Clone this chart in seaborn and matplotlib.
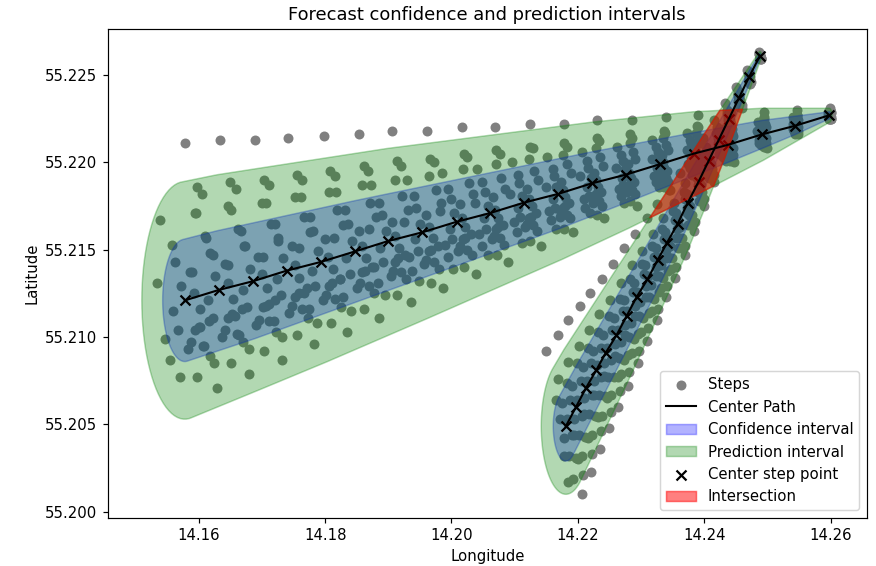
import numpy as np
import pandas as pd
import matplotlib
matplotlib.use("Agg")
import matplotlib.pyplot as plt
import seaborn as sns


# center step points of the two forecast tracks (start -> last step)
t1_lon = [14.2598, 14.2544, 14.2491, 14.2437, 14.2383, 14.2330, 14.2276, 14.2222, 14.2169, 14.2115,
          14.2061, 14.2008, 14.1954, 14.1900, 14.1847, 14.1793, 14.1739, 14.1686, 14.1632, 14.1578]
t1_lat = [55.2227, 55.2221, 55.2216, 55.2210, 55.2205, 55.2199, 55.2193, 55.2188, 55.2182, 55.2177,
          55.2171, 55.2166, 55.2160, 55.2155, 55.2149, 55.2143, 55.2138, 55.2132, 55.2127, 55.2121]
t2_lon = [14.2488, 14.2471, 14.2455, 14.2439, 14.2423, 14.2407, 14.2391, 14.2374, 14.2358, 14.2341,
          14.2326, 14.2310, 14.2293, 14.2277, 14.2261, 14.2244, 14.2229, 14.2213, 14.2197, 14.2181]
t2_lat = [55.2261, 55.2249, 55.2237, 55.2225, 55.2213, 55.2201, 55.2189, 55.2177, 55.2165, 55.2154,
          55.2144, 55.2133, 55.2123, 55.2112, 55.2101, 55.2091, 55.2081, 55.2071, 55.2060, 55.2049]

# interval radius around every center step (degrees)
t1_pred_r = [0.0004, 0.0009, 0.0015, 0.0019, 0.0024, 0.0027, 0.0031, 0.0035, 0.0038, 0.0041,
             0.0044, 0.0047, 0.0050, 0.0053, 0.0055, 0.0058, 0.0061, 0.0063, 0.0066, 0.0068]
t1_conf_r = [0.0002, 0.0005, 0.0008, 0.0010, 0.0012, 0.0014, 0.0016, 0.0018, 0.0020, 0.0021,
             0.0023, 0.0024, 0.0026, 0.0027, 0.0029, 0.0030, 0.0031, 0.0033, 0.0034, 0.0035]
t2_pred_r = [0.00025, 0.0005, 0.0008, 0.0011, 0.0014, 0.0016, 0.0018, 0.0020, 0.0022, 0.0024,
             0.0025, 0.0027, 0.0029, 0.0030, 0.0032, 0.0033, 0.0035, 0.0036, 0.0038, 0.0039]
t2_conf_r = [0.00013, 0.0003, 0.0004, 0.0006, 0.0007, 0.0008, 0.0009, 0.0010, 0.0011, 0.0012,
             0.0013, 0.0014, 0.0015, 0.0016, 0.0016, 0.0017, 0.0018, 0.0019, 0.0019, 0.0020]

# ensemble step points, offset from the center step in 1e-4 degrees (one row per member)
t1_dlon = [
    [1, 2, 4, 6, 7, 9, 9, 8, 9, 9, 8, 8, 8, 6, 6, 5, 3, 3, 1, 1],
    [1, 2, 3, 4, 5, 6, 7, 8, 9, 10, 10, 11, 12, 13, 14, 15, 16, 17, 18, 19],
    [1, 3, 4, 6, 7, 8, 10, 11, 13, 14, 15, 17, 18, 20, 21, 22, 24, 25, 27, 28],
    [1, 2, 2, 3, 4, 5, 6, 6, 7, 8, 9, 10, 10, 11, 12, 13, 14, 14, 15, 16],
    [-2, -4, -6, -8, -10, -12, -14, -16, -18, -20, -21, -23, -25, -27, -29, -31, -33, -35, -37, -39],
    [2, 3, 5, 6, 8, 10, 11, 13, 14, 16, 18, 19, 21, 22, 24, 26, 27, 29, 30, 32],
    [-1, -2, -3, -4, -5, -6, -7, -8, -9, -10, -12, -13, -14, -15, -16, -17, -18, -19, -20, -21],
    [0, 1, 1, 2, 2, 3, 3, 4, 4, 4, 5, 5, 6, 6, 7, 7, 8, 8, 9, 9],
    [-2, -4, -7, -9, -11, -13, -15, -18, -20, -22, -24, -26, -29, -31, -33, -35, -37, -40, -42, -44],
    [1, 2, 4, 5, 6, 7, 8, 10, 11, 12, 13, 14, 16, 17, 18, 19, 20, 22, 23, 24],
    [-1, -1, -2, -2, -3, -3, -4, -4, -5, -6, -6, -7, -7, -8, -8, -9, -9, -10, -10, -11],
    [1, 2, 3, 3, 4, 5, 6, 7, 7, 8, 9, 10, 11, 11, 12, 13, 14, 15, 15, 16],
    [1, 3, 4, 6, 7, 9, 10, 12, 13, 14, 16, 17, 19, 20, 22, 23, 25, 26, 28, 29],
    [-1, -2, -4, -5, -6, -7, -8, -10, -11, -12, -13, -14, -16, -17, -18, -19, -20, -22, -23, -24],
    [1, 2, 3, 4, 5, 6, 7, 8, 9, 10, 11, 12, 13, 14, 15, 16, 17, 18, 19, 20],
    [0, -1, -1, -2, -2, -2, -3, -3, -4, -4, -4, -5, -5, -6, -6, -6, -7, -7, -8, -8],
    [3, 5, 8, 10, 13, 15, 18, 20, 23, 26, 28, 31, 33, 36, 38, 41, 43, 46, 48, 51],
    [1, 2, 2, 3, 4, 4, 5, 6, 7, 8, 8, 9, 10, 10, 11, 12, 13, 14, 14, 15],
    [0, 0, 1, 1, 1, 2, 2, 2, 2, 2, 3, 3, 3, 4, 4, 4, 4, 4, 5, 5],
    [-1, -2, -2, -3, -4, -4, -5, -6, -7, -8, -8, -9, -10, -10, -11, -12, -13, -14, -14, -15],
    [2, 4, 6, 8, 10, 11, 13, 15, 17, 19, 21, 23, 25, 27, 28, 30, 32, 34, 36, 38],
    [-2, -3, -5, -6, -8, -10, -11, -13, -14, -16, -18, -19, -21, -22, -24, -26, -27, -29, -30, -32],
    [2, 4, 6, 8, 10, 12, 14, 16, 18, 20, 22, 24, 26, 28, 30, 32, 34, 36, 38, 40],
    [0, -1, -1, -1, -2, -2, -2, -2, -3, -3, -3, -4, -4, -4, -4, -5, -5, -5, -6, -6],
    [2, 4, 7, 9, 11, 13, 15, 18, 20, 22, 24, 26, 29, 31, 33, 35, 37, 40, 42, 44],
    [0, 1, 2, 2, 2, 3, 4, 4, 4, 5, 6, 6, 6, 7, 8, 8, 8, 9, 10, 10],
    [1, 2, 3, 4, 6, 7, 8, 9, 10, 11, 12, 13, 14, 15, 16, 18, 19, 20, 21, 22],
    [-1, -2, -3, -4, -4, -5, -6, -7, -8, -9, -10, -11, -12, -13, -14, -14, -15, -16, -17, -18],
]
t1_dlat = [
    [4, 9, 13, 18, 22, 27, 31, 36, 40, 45, 49, 54, 58, 63, 67, 72, 76, 81, 86, 90],
    [3, 6, 10, 13, 16, 19, 23, 26, 29, 32, 36, 39, 42, 46, 49, 52, 55, 58, 62, 65],
    [3, 6, 9, 12, 15, 18, 21, 24, 27, 31, 34, 37, 40, 43, 46, 49, 52, 55, 58, 61],
    [2, 5, 8, 10, 12, 15, 18, 20, 22, 25, 28, 30, 32, 35, 38, 40, 42, 45, 48, 50],
    [2, 5, 7, 9, 12, 14, 16, 18, 21, 23, 25, 28, 30, 32, 34, 37, 39, 41, 44, 46],
    [2, 4, 6, 7, 9, 11, 13, 15, 17, 18, 20, 22, 24, 26, 28, 30, 31, 33, 35, 37],
    [2, 3, 5, 6, 8, 10, 11, 13, 14, 16, 18, 19, 21, 22, 24, 26, 27, 29, 30, 32],
    [1, 2, 2, 3, 4, 5, 6, 6, 7, 8, 9, 10, 10, 11, 12, 13, 14, 14, 15, 16],
    [0, 1, 2, 2, 2, 3, 4, 4, 4, 5, 6, 6, 6, 7, 8, 8, 8, 9, 10, 10],
    [0, 0, -1, -1, -1, -2, -2, -2, -2, -2, -3, -3, -3, -4, -4, -4, -4, -4, -5, -5],
    [-1, -2, -3, -3, -4, -5, -6, -7, -8, -8, -9, -10, -11, -12, -13, -14, -14, -15, -16, -17],
    [-1, -2, -2, -4, -4, -5, -6, -6, -8, -9, -9, -10, -11, -12, -12, -14, -15, -15, -16, -17],
    [-1, -3, -4, -5, -6, -8, -9, -10, -12, -13, -14, -16, -17, -18, -20, -21, -22, -23, -25, -26],
    [-2, -3, -5, -7, -8, -10, -12, -14, -15, -17, -19, -20, -22, -24, -26, -27, -29, -31, -32, -34],
    [-2, -4, -7, -9, -11, -13, -15, -18, -20, -22, -24, -26, -29, -31, -33, -35, -37, -40, -42, -44],
    [-2, -5, -6, -9, -12, -13, -16, -17, -20, -23, -24, -27, -28, -31, -34, -35, -38, -39, -42, -44],
    [-2, -5, -8, -10, -12, -15, -18, -20, -22, -25, -28, -30, -32, -35, -38, -40, -42, -45, -48, -50],
    [0, 0, 1, 1, 1, 1, 1, 2, 2, 2, 2, 2, 3, 3, 3, 3, 3, 4, 4, 4],
    [-1, -3, -4, -6, -7, -8, -10, -11, -13, -14, -15, -17, -18, -20, -21, -22, -24, -25, -27, -28],
    [1, 2, 3, 4, 6, 7, 8, 9, 10, 11, 12, 13, 14, 15, 16, 18, 19, 20, 21, 22],
    [-1, -1, -2, -2, -3, -4, -4, -5, -5, -6, -7, -7, -8, -8, -9, -10, -10, -11, -11, -12],
    [-1, -2, -3, -4, -6, -7, -8, -9, -10, -11, -12, -13, -14, -15, -16, -18, -19, -20, -21, -22],
    [-2, -3, -5, -6, -8, -10, -11, -13, -14, -16, -18, -19, -21, -22, -24, -26, -27, -29, -30, -32],
    [0, 1, 1, 2, 2, 2, 3, 3, 4, 4, 4, 5, 5, 6, 6, 6, 7, 7, 8, 8],
    [1, 3, 4, 5, 6, 8, 9, 10, 12, 13, 14, 16, 17, 18, 20, 21, 22, 23, 25, 26],
    [-1, -2, -4, -5, -6, -7, -8, -10, -11, -12, -13, -14, -16, -17, -18, -19, -20, -22, -23, -24],
    [-1, -2, -2, -3, -4, -4, -5, -6, -7, -8, -8, -9, -10, -10, -11, -12, -13, -14, -14, -15],
    [0, -1, -1, -1, -2, -2, -2, -2, -3, -3, -3, -4, -4, -4, -4, -5, -5, -5, -6, -6],
]
t2_dlon = [
    [-2, -3, -5, -6, -8, -9, -11, -12, -14, -16, -17, -19, -20, -22, -23, -25, -26, -28, -29, -31],
    [1, 2, 4, 5, 6, 8, 9, 10, 11, 12, 14, 15, 16, 18, 19, 20, 21, 22, 24, 25],
    [1, 3, 4, 5, 7, 8, 9, 11, 12, 14, 15, 16, 18, 19, 20, 22, 23, 24, 26, 27],
    [1, 1, 2, 2, 3, 3, 4, 4, 5, 6, 6, 7, 7, 8, 8, 9, 9, 10, 10, 11],
    [1, 2, 2, 3, 4, 5, 6, 6, 7, 8, 9, 10, 10, 11, 12, 13, 14, 14, 15, 16],
    [0, 0, 1, 1, 1, 2, 2, 2, 2, 2, 3, 3, 3, 4, 4, 4, 4, 4, 5, 5],
    [0, 1, 2, 2, 2, 3, 4, 4, 4, 5, 6, 6, 6, 7, 8, 8, 8, 9, 10, 10],
    [0, 0, 0, -1, -1, -1, -1, -1, -1, -2, -2, -2, -2, -2, -2, -2, -3, -3, -3, -3],
    [0, 0, 0, 0, 0, 1, 1, 1, 1, 1, 1, 1, 1, 1, 2, 2, 2, 2, 2, 2],
    [0, -1, -1, -2, -2, -3, -3, -4, -4, -4, -5, -5, -6, -6, -7, -7, -8, -8, -9, -9],
    [0, -1, -1, -1, -2, -2, -2, -2, -3, -3, -3, -4, -4, -4, -4, -5, -5, -5, -6, -6],
    [-1, -2, -2, -3, -4, -4, -5, -6, -7, -8, -8, -9, -10, -10, -11, -12, -13, -14, -14, -15],
    [-1, -1, -2, -3, -3, -4, -5, -5, -6, -6, -7, -8, -8, -9, -10, -10, -11, -12, -12, -13],
    [0, 0, 0, 1, 1, 1, 1, 1, 1, 2, 2, 2, 2, 2, 2, 2, 3, 3, 3, 3],
    [0, 0, -1, -1, -1, -1, -1, -2, -2, -2, -2, -2, -2, -3, -3, -3, -3, -3, -3, -3],
]
t2_dlat = [
    [2, 4, 6, 9, 11, 13, 15, 17, 19, 22, 24, 26, 28, 30, 32, 34, 37, 39, 41, 43],
    [-2, -4, -6, -8, -10, -12, -14, -16, -18, -20, -21, -23, -25, -27, -29, -31, -33, -35, -37, -39],
    [-1, -3, -4, -6, -7, -8, -10, -11, -13, -14, -15, -17, -18, -20, -21, -22, -24, -25, -27, -28],
    [-2, -3, -4, -6, -8, -9, -10, -12, -14, -15, -16, -18, -20, -21, -22, -24, -26, -27, -28, -30],
    [-1, -2, -3, -4, -4, -5, -6, -7, -8, -9, -10, -11, -12, -13, -14, -14, -15, -16, -17, -18],
    [-1, -2, -3, -3, -4, -5, -6, -7, -8, -8, -9, -10, -11, -12, -13, -14, -14, -15, -16, -17],
    [0, 0, -1, -1, -1, -2, -2, -2, -2, -2, -3, -3, -3, -4, -4, -4, -4, -4, -5, -5],
    [0, -1, -1, -1, -2, -2, -2, -3, -3, -4, -4, -4, -5, -5, -5, -6, -6, -6, -7, -7],
    [0, 0, 1, 1, 1, 1, 1, 2, 2, 2, 2, 2, 3, 3, 3, 3, 3, 4, 4, 4],
    [0, 1, 1, 1, 1, 1, 2, 2, 2, 2, 2, 3, 3, 3, 3, 3, 4, 4, 4, 4],
    [1, 1, 2, 3, 3, 4, 5, 5, 6, 6, 7, 8, 8, 9, 10, 10, 11, 12, 12, 13],
    [1, 2, 2, 3, 4, 4, 5, 6, 7, 8, 8, 9, 10, 10, 11, 12, 13, 14, 14, 15],
    [1, 3, 4, 5, 7, 8, 9, 11, 12, 14, 15, 16, 18, 19, 20, 22, 23, 24, 26, 27],
    [-2, -3, -5, -6, -8, -10, -11, -13, -14, -16, -18, -19, -21, -22, -24, -26, -27, -29, -30, -32],
    [-1, -2, -2, -3, -4, -5, -6, -6, -8, -9, -9, -10, -11, -11, -12, -13, -14, -15, -16, -17],
]


def convex_hull(points):
    pts = sorted(set(points))

    def turn(o, a, b):
        return (a[0] - o[0]) * (b[1] - o[1]) - (a[1] - o[1]) * (b[0] - o[0])

    lower, upper = [], []
    for p in pts:
        while len(lower) >= 2 and turn(lower[-2], lower[-1], p) <= 0:
            lower.pop()
        lower.append(p)
    for p in reversed(pts):
        while len(upper) >= 2 and turn(upper[-2], upper[-1], p) <= 0:
            upper.pop()
        upper.append(p)
    return lower[:-1] + upper[:-1]


def interval_polygon(lon, lat, radius):
    ang = np.linspace(0, 2 * np.pi, 90, endpoint=False)
    pts = []
    for x, y, r in zip(lon, lat, radius):
        pts += list(zip(x + r * np.cos(ang), y + r * np.sin(ang)))
    return convex_hull(pts)


def clip_polygon(subject, clipper):
    # Sutherland-Hodgman, both polygons convex and counter clockwise
    out = list(subject)
    for i in range(len(clipper)):
        a, b = np.array(clipper[i]), np.array(clipper[(i + 1) % len(clipper)])
        inp, out = out, []
        if not inp:
            break

        def inside(p):
            return (b[0] - a[0]) * (p[1] - a[1]) - (b[1] - a[1]) * (p[0] - a[0]) >= 0

        def cut(p, q):
            p, q = np.array(p), np.array(q)
            r, s = q - p, b - a
            t = ((a - p)[0] * s[1] - (a - p)[1] * s[0]) / (r[0] * s[1] - r[1] * s[0])
            return tuple(p + t * r)

        for j in range(len(inp)):
            p, q = inp[j - 1], inp[j]
            if inside(q):
                if not inside(p):
                    out.append(cut(p, q))
                out.append(q)
            elif inside(p):
                out.append(cut(p, q))
    return out


def step_points(lon, lat, dlon, dlat):
    xs, ys = [], []
    for mlon, mlat in zip(dlon, dlat):
        xs += [x + d * 1e-4 for x, d in zip(lon, mlon)]
        ys += [y + d * 1e-4 for y, d in zip(lat, mlat)]
    return xs, ys


x1, y1 = step_points(t1_lon, t1_lat, t1_dlon, t1_dlat)
x2, y2 = step_points(t2_lon, t2_lat, t2_dlon, t2_dlat)
steps = pd.DataFrame({"lon": x1 + x2, "lat": y1 + y2})
centers = pd.DataFrame({"lon": t1_lon + t2_lon, "lat": t1_lat + t2_lat})

conf1 = interval_polygon(t1_lon, t1_lat, t1_conf_r)
conf2 = interval_polygon(t2_lon, t2_lat, t2_conf_r)
pred1 = interval_polygon(t1_lon, t1_lat, t1_pred_r)
pred2 = interval_polygon(t2_lon, t2_lat, t2_pred_r)
inter = clip_polygon(pred1, pred2)

fig, ax = plt.subplots(figsize=(8.196, 5.29), dpi=107)
fig.subplots_adjust(left=0.1228, right=0.9883, bottom=0.0853, top=0.9482)

sns.scatterplot(data=steps, x="lon", y="lat", color="gray", s=45, linewidth=0,
                label="Steps", ax=ax)
ax.plot(t1_lon, t1_lat, color="black", lw=1.4, label="Center Path")
ax.plot(t2_lon, t2_lat, color="black", lw=1.4)

ax.fill(*zip(*conf1), color="blue", alpha=0.3, label="Confidence interval")
ax.fill(*zip(*conf2), color="blue", alpha=0.3)
ax.fill(*zip(*pred1), color="green", alpha=0.3, label="Prediction interval")
ax.fill(*zip(*pred2), color="green", alpha=0.3)

sns.scatterplot(data=centers, x="lon", y="lat", color="black", marker="x", s=45,
                linewidth=1.5, label="Center step point", ax=ax)
ax.fill(*zip(*inter), color="red", alpha=0.5, label="Intersection")

ax.set_xlim(14.1456, 14.2657)
ax.set_ylim(55.19966, 55.22762)
ax.set_title("Forecast confidence and prediction intervals")
ax.set_xlabel("Longitude")
ax.set_ylabel("Latitude")
ax.legend(loc="lower right")

fig.savefig("out.png", dpi=107)
